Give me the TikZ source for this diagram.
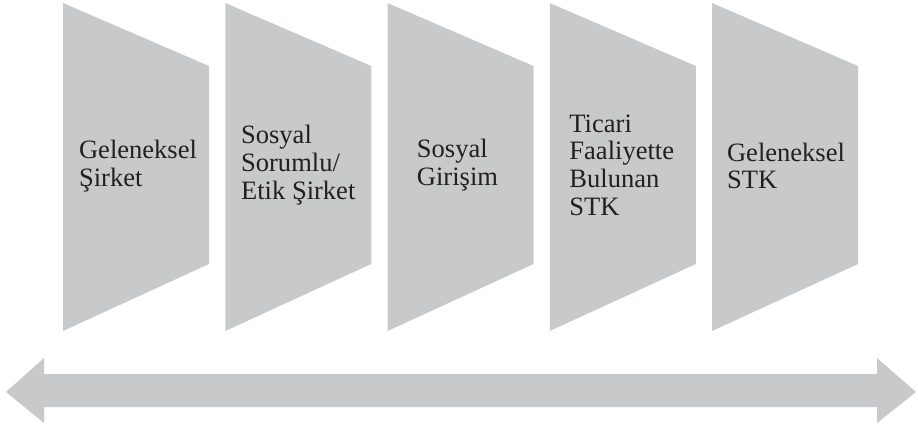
\documentclass[tikz,border=0pt]{standalone}
\usepackage{fontspec}
\setmainfont{Liberation Serif}
\usepackage{tikz}

\definecolor{panelgrey}{HTML}{C8C9CB}
\definecolor{labelink}{HTML}{231F20}

\tikzset{
  panel/.style={fill=panelgrey,draw=none},
  paneltext/.style={align=left,text=labelink,font=\fontsize{15.1}{15.8}\selectfont}
}

\begin{document}
\begin{tikzpicture}

    \useasboundingbox (0,0) rectangle (18.36,8.56);



    \begin{scope}[xshift=1.26cm]

      \fill[panel] (0,1.94) -- (0,8.50) -- (2.92,7.24) -- (2.92,3.28) -- cycle;

      \node[paneltext] (geleneksel) at (1.50,5.24)
      {Geleneksel \\
        Şirket};

    \end{scope}



    \begin{scope}[xshift=4.505cm]

      \fill[panel] (0,1.94) -- (0,8.50) -- (2.92,7.24) -- (2.92,3.28) -- cycle;

      \node[paneltext] (sorumlu) at (1.46,5.26)
      {Sosyal \\
        Sorumlu/ \\
        Etik Şirket};

    \end{scope}



    \begin{scope}[xshift=7.75cm]

      \fill[panel] (0,1.94) -- (0,8.50) -- (2.92,7.24) -- (2.92,3.28) -- cycle;

      \node[paneltext] (girisim) at (1.40,5.26)
      {Sosyal \\
        Girişim};

    \end{scope}



    \begin{scope}[xshift=10.995cm]

      \fill[panel] (0,1.94) -- (0,8.50) -- (2.92,7.24) -- (2.92,3.28) -- cycle;

      \node[paneltext] (ticari) at (1.44,5.26)
      {Ticari \\
        Faaliyette \\
        Bulunan \\
        STK};

    \end{scope}



    \begin{scope}[xshift=14.24cm]

      \fill[panel] (0,1.94) -- (0,8.50) -- (2.92,7.24) -- (2.92,3.28) -- cycle;

      \node[paneltext] (stk) at (1.48,5.24)
      {Geleneksel \\
        STK};

    \end{scope}





    % double arrow along the bottom
    \fill[panel] (0.12,0.72) -- (0.88,1.40) -- (0.88,1.08) -- (17.54,1.08)
      -- (17.54,1.40) -- (18.32,0.72) -- (17.54,0.10) -- (17.54,0.42)
      -- (0.88,0.42) -- (0.88,0.10) -- cycle;

  \end{tikzpicture}
\end{document}
